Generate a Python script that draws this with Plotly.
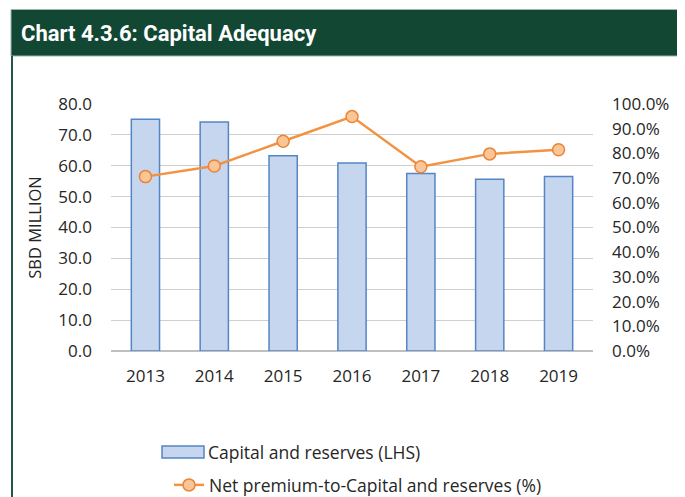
import plotly.graph_objects as go

years = ["2013", "2014", "2015", "2016", "2017", "2018", "2019"]
capital_reserves = [75.1, 74.2, 63.2, 60.9, 57.5, 55.6, 56.5]
net_premium_ratio = [0.706, 0.749, 0.849, 0.949, 0.746, 0.798, 0.815]

OFF = 8  # page body margin
W, H = 685 - OFF, 497 - OFF
# plot area in reference pixels: x 111..593, y 104..351
L, T = 111 - OFF, 104 - OFF
R = W - (593 - OFF)
B = H - (351 - OFF)
pw, ph = W - L - R, H - T - B

def px_x(x):
    return (x - OFF - L) / pw

def px_y(y):
    return (351 - y) / ph

FONT = "Open Sans, Noto Sans, sans-serif"
TXT = "#262626"
BAR_FILL = "#C5D6EE"
BAR_LINE = "#5585C4"
TICK = 17

fig = go.Figure()
fig.add_trace(go.Bar(
    x=years, y=capital_reserves, name="Capital and reserves (LHS)",
    marker=dict(color=BAR_FILL, line=dict(color=BAR_LINE, width=1.5)),
    showlegend=False,
))
fig.add_trace(go.Scatter(
    x=years, y=net_premium_ratio, name="Net premium-to-Capital and reserves (%)",
    yaxis="y2", mode="lines+markers",
    line=dict(color="#F39240", width=2.5),
    marker=dict(size=12, color="#FCC596", line=dict(color="#E8853A", width=1.5)),
))

shapes = [
    dict(type="rect", xref="paper", yref="paper",
         x0=px_x(11), x1=px_x(700), y0=px_y(56), y1=px_y(9.5),
         fillcolor="#124734", line=dict(color="#9FB5AC", width=1), layer="below"),
    dict(type="line", xref="paper", yref="paper",
         x0=px_x(12), x1=px_x(12), y0=px_y(56), y1=px_y(510),
         line=dict(color="#1E5A46", width=2)),
    # legend swatch for the bar series
    dict(type="rect", xref="paper", yref="paper",
         x0=px_x(162), x1=px_x(204), y0=px_y(458), y1=px_y(446),
         fillcolor=BAR_FILL, line=dict(color=BAR_LINE, width=1.5)),
]

annotations = [
    dict(text="<b>Chart 4.3.6: Capital Adequacy</b>", xref="paper", yref="paper",
         x=px_x(19), y=px_y(33), xanchor="left", yanchor="middle", showarrow=False,
         font=dict(family="Roboto, sans-serif", size=22, color="white")),
    dict(text="Capital and reserves (LHS)", xref="paper", yref="paper",
         x=px_x(206), y=px_y(452), xanchor="left", yanchor="middle", showarrow=False,
         font=dict(family=FONT, size=17.5, color=TXT)),
]

fig.update_layout(
    width=W, height=H,
    margin=dict(l=L, r=R, t=T, b=B, autoexpand=False),
    paper_bgcolor="white", plot_bgcolor="white",
    font=dict(family=FONT, size=TICK, color=TXT),
    bargap=0.59,
    showlegend=True,
    legend=dict(x=px_x(169), y=px_y(485), xanchor="left", yanchor="middle",
                font=dict(size=17.5, color=TXT), bgcolor="rgba(0,0,0,0)"),
    xaxis=dict(type="category", showgrid=False, showline=False,
               ticks="", tickfont=dict(size=TICK, color=TXT), ticklabelstandoff=13),
    yaxis=dict(range=[0, 80], dtick=10, tickformat=".1f", showgrid=True,
               gridcolor="#CFCFCF", gridwidth=1, zeroline=True, zerolinecolor="#BFBFBF",
               zerolinewidth=1.5, showline=False, ticks="",
               tickfont=dict(size=TICK, color=TXT), ticklabelstandoff=18,
               title=dict(text="SBD MILLION", font=dict(size=16.5, color=TXT), standoff=12)),
    yaxis2=dict(range=[0, 1], dtick=0.1, tickformat=".1%", overlaying="y", side="right",
                showgrid=False, zeroline=False, showline=False, ticks="",
                tickfont=dict(size=TICK, color=TXT), ticklabelstandoff=18),
    shapes=shapes,
    annotations=annotations,
)

fig.write_html("out.html")
